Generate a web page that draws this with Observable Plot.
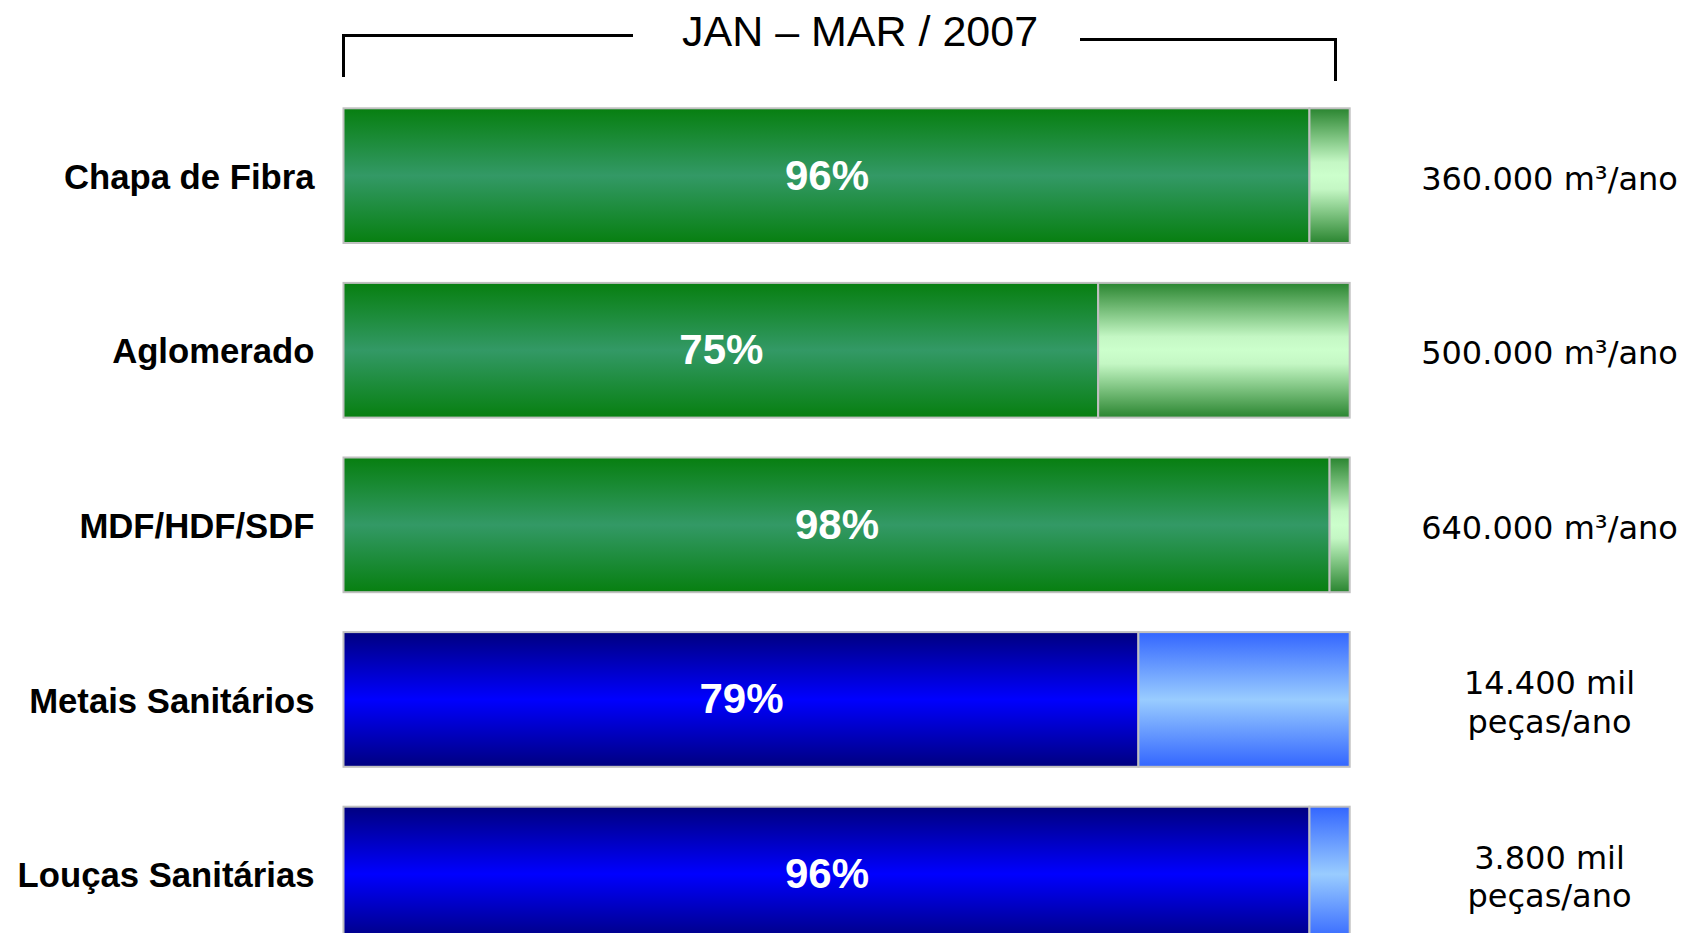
<!DOCTYPE html>
<html>
<head>
<meta charset="utf-8">
<script src="https://cdn.jsdelivr.net/npm/d3@7"></script>
<script src="https://cdn.jsdelivr.net/npm/@observablehq/plot@0.6"></script>
<style>
  html, body { margin: 0; padding: 0; background: #fff; overflow: hidden; }
  #wrap { position: relative; width: 1686px; height: 933px; }
  #title {
    position: absolute; left: 0; width: 1686px; top: 10px;
    font-family: "Liberation Sans", Arial, sans-serif; font-size: 43px; line-height: 43px;
    color: #000; pointer-events: none;
  }
  #title span { position: absolute; left: 682px; white-space: pre; }
  .brk { position: absolute; border-color: #000; border-style: solid; border-width: 0; }
  #brkL { left: 342px; top: 34px; width: 288px; height: 40px; border-top-width: 3px; border-left-width: 3px; }
  #brkR { left: 1080px; top: 38px; width: 254px; height: 40px; border-top-width: 3px; border-right-width: 3px; }
</style>
</head>
<body>
<div id="wrap">
  <div id="chart"></div>
  <div class="brk" id="brkL"></div>
  <div class="brk" id="brkR"></div>
  <div id="title"><span id="titleText"></span></div>
</div>
<script>
// ---- data ----
const periodLabel = "JAN – MAR / 2007";
const categories = ["Chapa de Fibra", "Aglomerado", "MDF/HDF/SDF", "Metais Sanitários", "Louças Sanitárias"];
const occupancy = [96, 75, 98, 79, 96];
const sector = ["painel", "painel", "painel", "metal", "metal"];
const capacities = ["360.000 m³/ano", "500.000 m³/ano", "640.000 m³/ano", "14.400 mil\npeças/ano", "3.800 mil\npeças/ano"];

const rows = categories.map((c, i) => ({
  category: c, value: occupancy[i], sector: sector[i], capacity: capacities[i]
}));
const painel = rows.filter(d => d.sector === "painel");
const metal = rows.filter(d => d.sector === "metal");

document.getElementById("titleText").textContent = periodLabel;

const stroke = "#c0c0c0";
const barOpts = {y: "category", stroke, strokeWidth: 2};

const chart = Plot.plot({
  width: 1686,
  height: 933,
  marginLeft: 343.5,
  marginRight: 336.3,
  marginTop: 0,
  marginBottom: 0,
  style: {fontFamily: "'Liberation Sans', Arial, sans-serif", background: "white"},
  x: {domain: [0, 100], axis: null},
  y: {domain: categories, range: [68.4, 981.3], padding: 0.2285, round: false, axis: null},
  marks: [
    Plot.barX(painel, {...barOpts, x1: 0, x2: "value", fill: "url(#gPainel1)"}),
    Plot.barX(painel, {...barOpts, x1: "value", x2: 100, fill: "url(#gPainel2)"}),
    Plot.barX(metal, {...barOpts, x1: 0, x2: "value", fill: "url(#gMetal1)"}),
    Plot.barX(metal, {...barOpts, x1: "value", x2: 100, fill: "url(#gMetal2)"}),
    Plot.text(rows, {
      x: d => d.value / 2, y: "category", text: d => d.value + "%",
      fill: "white", fontSize: 42, fontWeight: "bold"
    }),
    Plot.text(rows, {
      y: "category", text: "capacity", frameAnchor: "right", dx: 199.3, dy: 1,
      textAnchor: "middle", fontSize: 32, lineHeight: 1.21,
      fontFamily: "'DejaVu Sans', sans-serif", fill: "black"
    }),
    Plot.axisY({
      tickSize: 0, tickPadding: 29.5, fontSize: 34.7, fontWeight: "bold",
      fill: "black", label: null, dy: 1.5
    })
  ]
});

// gradient definitions used by the bar fills
const defs = d3.select(chart).insert("defs", ":first-child");
function grad(id, stops) {
  const g = defs.append("linearGradient").attr("id", id)
    .attr("x1", 0).attr("y1", 0).attr("x2", 0).attr("y2", 1);
  stops.forEach(([o, c]) => g.append("stop").attr("offset", o).attr("stop-color", c));
}
grad("gPainel1", [[0, "#077f10"], [0.5, "#339966"], [1, "#077f10"]]);
grad("gPainel2", [[0, "#2a8530"], [0.4, "#c4f7c4"], [0.5, "#ccffcc"], [0.6, "#c4f7c4"], [1, "#2a8530"]]);
grad("gMetal1", [[0, "#000080"], [0.5, "#0000ff"], [1, "#000080"]]);
grad("gMetal2", [[0, "#3366ff"], [0.5, "#99ccff"], [1, "#3366ff"]]);

document.getElementById("chart").appendChild(chart);
</script>
</body>
</html>
